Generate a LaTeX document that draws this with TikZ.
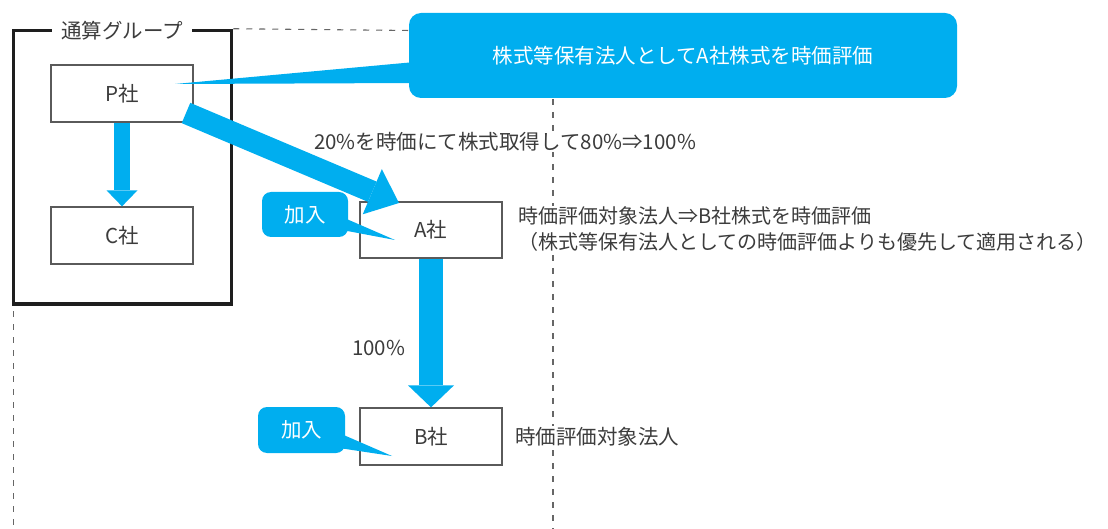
\documentclass[tikz,border=0pt]{standalone}
\usepackage{fontspec}
\setmainfont{Noto Sans CJK JP}
\usetikzlibrary{arrows.meta}
\definecolor{cy}{HTML}{00AEEF}
\definecolor{tx}{HTML}{3C3C3C}
\definecolor{bx}{HTML}{5A5A5A}
\definecolor{dsh}{HTML}{666666}
\definecolor{frm}{HTML}{1E1E1E}
\tikzset{
  txt/.style={font=\fontsize{20.5}{26}\selectfont, text=tx},
  company/.style={txt, draw=bx, line width=1.3pt, fill=white, minimum width=142pt, minimum height=57pt, inner sep=0pt},
  guide/.style={draw=dsh, line width=1.1pt, dash pattern=on 6pt off 7pt},
  lbl/.style={txt, fill=white, inner sep=1pt, anchor=west},
  callout/.style={font=\fontsize{20.5}{26}\selectfont, fill=cy, text=white, inner sep=0pt},
  flow/.style={draw=cy},
}
\begin{document}
\begin{tikzpicture}[x=1pt,y=-1pt]
\useasboundingbox (0,0) rectangle (1108,529);
% group frame
\node[draw=frm, line width=3.5pt, minimum width=218pt, minimum height=273.5pt, inner sep=0pt] (frame) at (122.5,167.25) {};
% dashed guides
\coordinate (gend) at (412,30.5);
\coordinate (lstart) at (13.5,311);
\coordinate (lend) at (13.5,529);
\coordinate (rstart) at (553,99);
\coordinate (rend) at (553,529);
\draw[guide] (frame.north east) -- (gend);
\draw[guide] (lstart) -- (lend);
\draw[guide] (rstart) -- (rend);
% bubble
\node[callout, rounded corners=12pt, minimum width=548pt, minimum height=85pt] (bub) at (683,55.5) {株式等保有法人としてA社株式を時価評価};
% title
\node[txt, fill=white, minimum width=140pt, minimum height=16pt, inner sep=0pt] (grp) at (122,31) {通算グループ};
% labels
\node[lbl] (t20) at (313,142) {20\%を時価にて株式取得して80\%⇒100\%};
\node[lbl] (t100) at (351,348) {100\%};
\node[lbl, align=left, font=\fontsize{20}{26}\selectfont] (tA) at (517,229) {時価評価対象法人⇒B社株式を時価評価\\（株式等保有法人としての時価評価よりも優先して適用される）};
\node[lbl] (tB) at (514,437) {時価評価対象法人};
% companies
\node[company] (P) at (122,93.5) {P社};
\node[company] (C) at (122,235.5) {C社};
\node[company, minimum height=56pt] (A) at (431,230) {A社};
\node[company] (B) at (431,436.5) {B社};
% bubble tail
\coordinate (bt1) at (415,62);
\coordinate (bt2) at (415,83);
\coordinate (btip) at (175,84);
\fill[cy] (bt1) -- (btip) -- (bt2) -- cycle;
% flows
\coordinate (pa1) at (186,113);
\coordinate (pa2) at (399,203);
\draw[flow, line width=16pt, -{Triangle[length=16pt, width=31pt, line width=0pt]}] (P.south) -- (C.north);
\draw[flow, line width=22pt, -{Triangle[length=29pt, width=49pt, line width=0pt]}] (pa1) -- (pa2);
\draw[flow, line width=24pt, -{Triangle[length=22pt, width=46pt, line width=0pt]}] (A.south) -- (B.north);
% join callouts
\node[callout, rounded corners=9pt, minimum width=86pt, minimum height=45pt] (j1) at (305,214.5) {加入};
\node[callout, rounded corners=9pt, minimum width=87pt, minimum height=46pt] (j2) at (301.5,430) {加入};
\coordinate (j1a) at (342,217);
\coordinate (j1b) at (342,230);
\coordinate (j1t) at (395,240);
\coordinate (j2a) at (339,433);
\coordinate (j2b) at (339,448);
\coordinate (j2t) at (392,456);
\fill[cy] (j1a) -- (j1t) -- (j1b) -- cycle;
\fill[cy] (j2a) -- (j2t) -- (j2b) -- cycle;
\end{tikzpicture}
\end{document}
